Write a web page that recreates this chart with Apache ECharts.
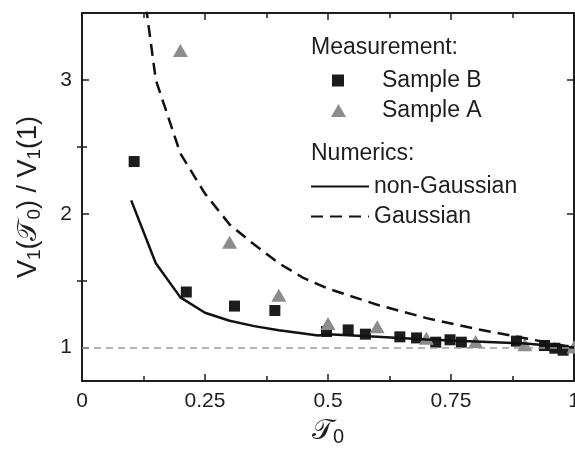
<!DOCTYPE html>
<html>
<head>
<meta charset="utf-8">
<script src="https://cdn.jsdelivr.net/npm/echarts@6/dist/echarts.min.js"></script>
<style>
  html, body { margin: 0; padding: 0; background: #fff; }
  #chart { width: 575px; height: 457px; }
</style>
</head>
<body>
<div id="chart"></div>
<script>
// values: [T0, V1(T0)/V1(1)]
const sampleB = [
  [0.106, 2.39], [0.212, 1.415], [0.31, 1.31], [0.392, 1.277],
  [0.497, 1.12], [0.541, 1.132], [0.576, 1.1], [0.646, 1.08],
  [0.68, 1.072], [0.719, 1.04], [0.748, 1.058], [0.771, 1.04],
  [0.883, 1.048], [0.94, 1.015], [0.961, 0.995], [0.978, 0.98]
];
const sampleA = [
  [0.2, 3.22], [0.3, 1.787], [0.4, 1.39], [0.5, 1.18], [0.6, 1.155],
  [0.7, 1.07], [0.8, 1.045], [0.9, 1.02], [1.0, 1.005]
];
const nonGaussian = [
  [0.1, 2.1], [0.15, 1.63], [0.2, 1.375], [0.25, 1.26], [0.3, 1.2],
  [0.35, 1.16], [0.4, 1.13], [0.45, 1.105], [0.48, 1.09], [0.5, 1.1],
  [0.6, 1.08], [0.7, 1.06], [0.8, 1.045], [0.9, 1.03], [1.0, 1.0]
];
const gaussian = [
  [0.13, 3.55], [0.15, 3.0], [0.2, 2.45], [0.25, 2.15], [0.3, 1.92],
  [0.35, 1.77], [0.4, 1.63], [0.45, 1.52], [0.5, 1.44], [0.6, 1.32],
  [0.7, 1.22], [0.8, 1.14], [0.9, 1.07], [1.0, 1.0]
];
const yMajor = [1, 2, 3];
const yMinor = [1.5, 2.5];

const font = '"Liberation Sans", Arial, sans-serif';
const ink = '#1e1e1e';
const frame = { show: true, onZero: false, lineStyle: { color: ink, width: 2 } };
const legendText = (pad) => ({ fontFamily: font, fontSize: 23, color: ink, padding: [0, 0, 0, pad] });

const xBase = (pos, labels) => ({
  type: 'value',
  position: pos,
  min: 0,
  max: 1,
  interval: 0.25,
  axisLine: frame,
  axisTick: { show: true, inside: true, length: 7, lineStyle: { color: ink, width: 1.5 } },
  minorTick: { show: true, splitNumber: 2, length: 5, lineStyle: { color: ink, width: 1.5 } },
  axisLabel: { show: labels, fontFamily: font, fontSize: 21, color: ink, margin: 10 },
  splitLine: { show: false },
  minorSplitLine: { show: false },
});

const yBase = (pos, ticks, len, labels, line) => ({
  type: 'value',
  position: pos,
  min: 0.75,
  max: 3.5,
  axisLine: line ? frame : { show: false },
  axisTick: { show: true, inside: true, length: len, customValues: ticks, lineStyle: { color: ink, width: 1.5 } },
  axisLabel: { show: labels, customValues: ticks, fontFamily: font, fontSize: 21, color: ink, margin: 10 },
  splitLine: { show: false },
});

const noDot = { color: 'rgba(0,0,0,0)', borderWidth: 0, opacity: 0 };

const chart = echarts.init(document.getElementById('chart'));
chart.setOption({
  animation: false,
  grid: { left: 82, right: 1, top: 13, bottom: 76, outerBoundsMode: 'none' },
  xAxis: [
    {
      ...xBase('bottom', true),
      name: '{cal|𝒯}{sub|0}',
      nameLocation: 'middle',
      nameGap: 31,
      nameTextStyle: {
        rich: {
          cal: { fontFamily: font, fontSize: 28, color: ink },
          sub: { fontFamily: font, fontSize: 20, color: ink, verticalAlign: 'bottom', padding: [14, 0, 0, 0] },
        },
      },
    },
    xBase('top', false),
  ],
  yAxis: [
    {
      ...yBase('left', yMajor, 7, true, true),
      name: 'V{sub|1}({cal|𝒯}{sub|0}) / V{sub|1}(1)',
      nameLocation: 'middle',
      nameRotate: 90,
      nameGap: 38,
      nameTextStyle: {
        fontFamily: font,
        fontSize: 27,
        color: ink,
        rich: {
          sub: { fontFamily: font, fontSize: 19, color: ink, padding: [12, 0, 0, 0] },
          cal: { fontFamily: font, fontSize: 27, color: ink },
        },
      },
    },
    yBase('right', yMajor, 7, false, true),
    yBase('left', yMinor, 5, false, false),
    yBase('right', yMinor, 5, false, false),
  ],
  legend: [
    {
      data: ['Sample B'],
      left: 332,
      top: 69,
      padding: 0,
      itemWidth: 12,
      itemHeight: 12,
      textStyle: legendText(33),
    },
    {
      data: ['Sample A'],
      left: 331,
      top: 99,
      padding: 0,
      itemWidth: 15,
      itemHeight: 13,
      textStyle: legendText(31),
    },
    {
      data: [
        { name: 'non-Gaussian', itemStyle: noDot },
        { name: 'Gaussian', itemStyle: noDot },
      ],
      orient: 'vertical',
      left: 310,
      top: 175,
      padding: 0,
      itemWidth: 58,
      itemHeight: 14,
      itemGap: 7,
      textStyle: legendText(0),
    },
  ],
  graphic: [
    { type: 'text', left: 311, top: 36, style: { text: 'Measurement:', font: '23px ' + font, fill: ink } },
    { type: 'text', left: 311, top: 142, style: { text: 'Numerics:', font: '23px ' + font, fill: ink } },
  ],
  series: [
    {
      name: 'non-Gaussian',
      type: 'line',
      data: nonGaussian,
      symbol: 'none',
      lineStyle: { color: '#111', width: 2.5 },
      itemStyle: { color: '#111' },
      markLine: {
        silent: true,
        symbol: 'none',
        label: { show: false },
        lineStyle: { color: '#9a9a9a', width: 1.5, type: [7, 5] },
        data: [{ yAxis: 1 }],
      },
    },
    {
      name: 'Gaussian',
      type: 'line',
      data: gaussian,
      symbol: 'none',
      lineStyle: { color: '#111', width: 2.5, type: [12, 7] },
      itemStyle: { color: '#111' },
    },
    {
      name: 'Sample B',
      type: 'scatter',
      data: sampleB,
      symbol: 'rect',
      symbolSize: 11,
      itemStyle: { color: '#1c1c1c', opacity: 1 },
    },
    {
      name: 'Sample A',
      type: 'scatter',
      data: sampleA,
      symbol: 'triangle',
      symbolSize: [15, 13],
      itemStyle: { color: '#8c8c8c', opacity: 1 },
    },
  ],
});
</script>
</body>
</html>
